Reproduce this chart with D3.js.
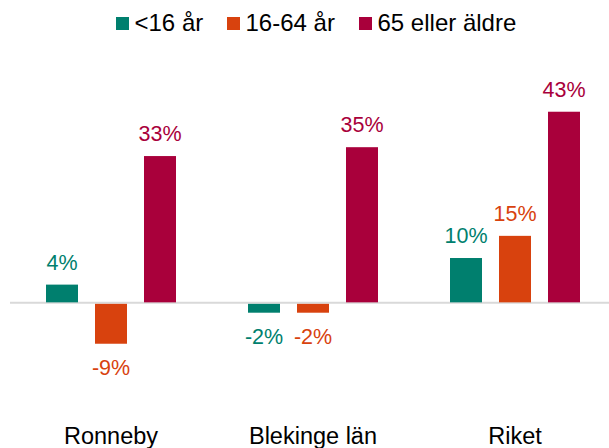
<!DOCTYPE html>
<html>
<head>
<meta charset="utf-8">
<script src="https://cdn.jsdelivr.net/npm/d3@7"></script>
<style>
  body { margin: 0; background: #fff; }
  svg { display: block; font-family: "Liberation Sans", Arial, sans-serif; }
</style>
</head>
<body>
<div id="chart"></div>
<script>
const categories = ["Ronneby", "Blekinge län", "Riket"];
const series = ["<16 år", "16-64 år", "65 eller äldre"];
const under16 = [4, -2, 10];
const age16to64 = [-9, -2, 15];
const over65 = [33, 35, 43];
const colors = ["#007F6E", "#D8420E", "#A9003B"];

const width = 609, height = 448;
const values = [under16, age16to64, over65];

const svg = d3.select("#chart")
    .append("svg")
    .attr("width", width)
    .attr("height", height);

const x0 = d3.scaleBand().domain(categories).range([10, 616]).padding(0);
const x1 = d3.scaleBand().domain(series)
    .range([x0.bandwidth() / 2 - 65, x0.bandwidth() / 2 + 65])
    .paddingInner(0.347).paddingOuter(0);
const y = d3.scaleLinear().domain([-20, 50]).range([391, 80.7]);

// zero line
svg.append("line")
    .attr("x1", 10).attr("x2", width)
    .attr("y1", y(0) + 0.5).attr("y2", y(0) + 0.5)
    .attr("stroke", "#d9d9d9")
    .attr("stroke-width", 2);

const rows = [];
categories.forEach((c, i) => {
    series.forEach((s, j) => rows.push({ cat: c, ser: s, v: values[j][i], color: colors[j] }));
});

const g = svg.append("g");
g.selectAll("rect")
    .data(rows)
    .enter()
    .append("rect")
    .attr("x", d => x0(d.cat) + x1(d.ser))
    .attr("width", x1.bandwidth())
    .attr("y", d => d.v >= 0 ? y(d.v) : y(0) + 1.5)
    .attr("height", d => d.v >= 0 ? y(0) - y(d.v) : y(d.v) - y(0))
    .attr("fill", d => d.color);

// value labels
g.selectAll("text.val")
    .data(rows)
    .enter()
    .append("text")
    .attr("class", "val")
    .attr("x", d => x0(d.cat) + x1(d.ser) + x1.bandwidth() / 2)
    .attr("y", d => d.v >= 0 ? y(d.v) - 15 : y(d.v) + 33)
    .attr("text-anchor", "middle")
    .attr("font-size", 21.5)
    .attr("fill", d => d.color)
    .text(d => d.v + "%");

// category labels
svg.selectAll("text.cat")
    .data(categories)
    .enter()
    .append("text")
    .attr("class", "cat")
    .attr("x", d => x0(d) + x0.bandwidth() / 2)
    .attr("y", 444)
    .attr("text-anchor", "middle")
    .attr("font-size", 23.5)
    .attr("fill", "#000")
    .text(d => d);

// legend
const legendX = [116, 227, 359];
const legend = svg.selectAll("g.leg")
    .data(series)
    .enter()
    .append("g")
    .attr("class", "leg")
    .attr("transform", (d, i) => `translate(${legendX[i]},0)`);
legend.append("rect")
    .attr("x", 0).attr("y", 17)
    .attr("width", 13).attr("height", 13)
    .attr("fill", (d, i) => colors[i]);
legend.append("text")
    .attr("x", 18.5).attr("y", 30.5)
    .attr("font-size", 24)
    .attr("fill", "#000")
    .text(d => d);
</script>
</body>
</html>
